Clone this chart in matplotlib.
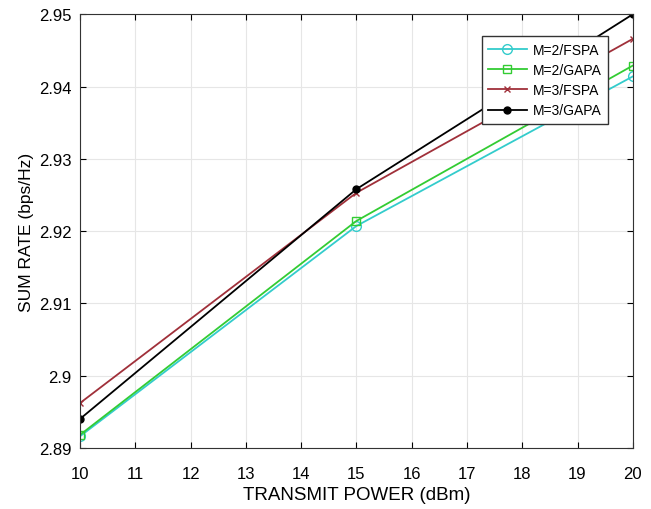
import matplotlib.pyplot as plt
import numpy as np

plt.rcParams['font.family'] = ['Liberation Sans', 'DejaVu Sans']

power = [10, 15, 20]
m2_fspa = [2.8916, 2.9207, 2.9414]
m2_gapa = [2.8918, 2.9214, 2.9429]
m3_fspa = [2.8962, 2.9253, 2.9466]
m3_gapa = [2.8940, 2.9258, 2.9500]

fig = plt.figure(figsize=(6.51, 5.10), dpi=100)
ax = fig.add_axes([0.123, 0.12, 0.849, 0.85])

ax.plot(power, m2_fspa, '-o', color='#33CCCC', mfc='none', ms=7, lw=1.3, label='M=2/FSPA')
ax.plot(power, m2_gapa, '-s', color='#33CC33', mfc='none', ms=6, lw=1.3, label='M=2/GAPA')
ax.plot(power, m3_fspa, '-x', color='#A0303A', ms=5, lw=1.3, label='M=3/FSPA')
ax.plot(power, m3_gapa, '-o', color='black', ms=5, lw=1.3, label='M=3/GAPA')

ax.set_xlim(10, 20)
ax.set_ylim(2.89, 2.95)
ax.set_xticks(np.arange(10, 21, 1))
ax.set_yticks([2.89, 2.9, 2.91, 2.92, 2.93, 2.94, 2.95])
ax.set_yticklabels(['2.89', '2.9', '2.91', '2.92', '2.93', '2.94', '2.95'])
ax.tick_params(direction='in', labelsize=12, top=True, right=True, length=4)
ax.tick_params(axis='x', pad=13)
ax.tick_params(axis='y', pad=6)
ax.grid(True, color='#e6e6e6', lw=0.8)
for s in ax.spines.values():
    s.set_color('#333333')

ax.set_xlabel('TRANSMIT POWER (dBm)', fontsize=13.5, labelpad=4)
ax.set_ylabel('SUM RATE (bps/Hz)', fontsize=12.5, labelpad=4)

leg = ax.legend(loc='upper right', bbox_to_anchor=(0.967, 0.965), fontsize=10,
                fancybox=False, edgecolor='#333333', framealpha=1,
                handlelength=2.8, handletextpad=0.4, borderpad=0.45, labelspacing=0.45)
leg.get_frame().set_linewidth(1.0)

fig.savefig('out.png', dpi=100)
